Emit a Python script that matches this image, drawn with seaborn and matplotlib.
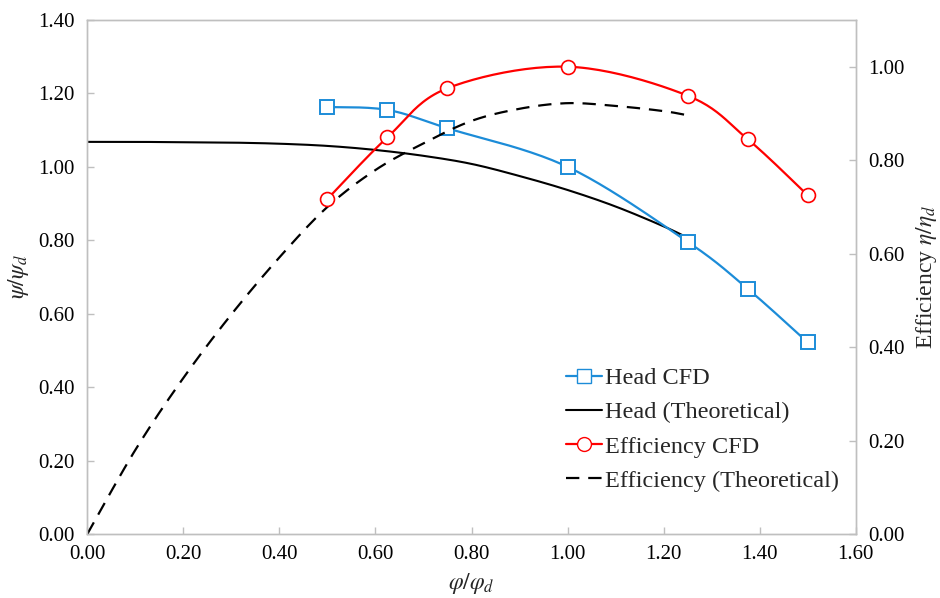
import numpy as np
import matplotlib
matplotlib.use("Agg")
import matplotlib.pyplot as plt
from matplotlib.lines import Line2D
import seaborn as sns

# valores
phi_cfd = [0.5, 0.625, 0.75, 1.0, 1.25, 1.375, 1.5]
head_cfd = [1.163, 1.155, 1.105, 1.000, 0.796, 0.668, 0.522]
eff_cfd = [0.717, 0.849, 0.954, 1.000, 0.938, 0.845, 0.725]

phi_th = [0.0, 0.1, 0.2, 0.3, 0.4, 0.5, 0.6, 0.7, 0.8, 0.9, 1.0, 1.1, 1.2, 1.25]
head_th = [1.068, 1.068, 1.067, 1.066, 1.063, 1.057, 1.046, 1.030, 1.008, 0.975,
           0.937, 0.892, 0.838, 0.807]
eff_th = [0.0, 0.180, 0.334, 0.470, 0.592, 0.700, 0.779, 0.836, 0.884, 0.910,
          0.922, 0.916, 0.905, 0.896]

blue = "#1C8CD8"
red = "#FF0000"
grey = "#BFBFBF"


def smooth(x, y, n=25):
    # curva suavizada tipo Excel (Catmull-Rom)
    x = np.asarray(x, float)
    y = np.asarray(y, float)
    px = np.concatenate([[x[0]], x, [x[-1]]])
    py = np.concatenate([[y[0]], y, [y[-1]]])
    xs, ys = [], []
    t = np.linspace(0, 1, n)
    for i in range(1, len(px) - 2):
        for p, out in ((px, xs), (py, ys)):
            p0, p1, p2, p3 = p[i - 1], p[i], p[i + 1], p[i + 2]
            out.extend(0.5 * ((2 * p1) + (-p0 + p2) * t
                              + (2 * p0 - 5 * p1 + 4 * p2 - p3) * t ** 2
                              + (-p0 + 3 * p1 - 3 * p2 + p3) * t ** 3))
    return np.array(xs), np.array(ys)


sns.set_theme(style="white")
plt.rcParams["font.family"] = ["Liberation Serif", "DejaVu Serif"]
plt.rcParams["mathtext.fontset"] = "stix"

fig, ax = plt.subplots(figsize=(9.4, 5.98), dpi=100)
fig.subplots_adjust(left=0.0929, right=0.9103, bottom=0.107, top=0.9666)
ax2 = ax.twinx()

# eje izquierdo: altura
x, y = smooth(phi_th, head_th)
sns.lineplot(x=x, y=y, ax=ax, color="black", lw=1.5, sort=False, estimator=None)
x, y = smooth(phi_cfd, head_cfd)
sns.lineplot(x=x, y=y, ax=ax, color=blue, lw=1.6, sort=False, estimator=None)
ax.plot(phi_cfd, head_cfd, ls="none", marker="s", ms=10, mfc="white",
        mec=blue, mew=1.4)

# eje derecho: eficiencia
x, y = smooth(phi_th, eff_th)
sns.lineplot(x=x, y=y, ax=ax2, color="black", lw=1.6, sort=False, estimator=None)
ax2.lines[-1].set_dashes([6, 4])
x, y = smooth(phi_cfd, eff_cfd)
sns.lineplot(x=x, y=y, ax=ax2, color=red, lw=1.6, sort=False, estimator=None)
ax2.plot(phi_cfd, eff_cfd, ls="none", marker="o", ms=10, mfc="white",
         mec=red, mew=1.2)

ax.set_xlim(0, 1.6)
ax.set_ylim(0, 1.4)
ax2.set_ylim(0, 1.1)
ax.set_xticks(np.arange(0, 1.61, 0.2))
ax.set_yticks(np.arange(0, 1.41, 0.2))
ax2.set_yticks(np.arange(0, 1.01, 0.2))
fmt = matplotlib.ticker.FormatStrFormatter("%.2f")
ax.xaxis.set_major_formatter(fmt)
ax.yaxis.set_major_formatter(fmt)
ax2.yaxis.set_major_formatter(fmt)

for a in (ax, ax2):
    for s in a.spines.values():
        s.set_color(grey)
        s.set_linewidth(1.0)
    a.tick_params(direction="in", length=5, width=1, color=grey,
                  labelsize=15, labelcolor="black")
ax.tick_params(axis="x", bottom=True, pad=8)
ax.tick_params(axis="y", left=True, pad=9)
ax2.tick_params(axis="y", right=True, pad=9)

ax.set_xlabel(r"$\varphi/\varphi_d$", fontsize=17, labelpad=5)
ax.set_ylabel(r"$\psi/\psi_d$", fontsize=17, labelpad=5)
ax2.set_ylabel(r"Efficiency $\eta/\eta_d$", fontsize=17, labelpad=7)

handles = [
    Line2D([], [], color=blue, lw=1.6, marker="s", ms=10, mfc="white", mec=blue),
    Line2D([], [], color="black", lw=1.5),
    Line2D([], [], color=red, lw=1.6, marker="o", ms=10, mfc="white", mec=red),
    Line2D([], [], color="black", lw=1.6, dashes=[6, 4]),
]
labels = ["Head CFD", "Head (Theoretical)", "Efficiency CFD", "Efficiency (Theoretical)"]
fig.legend(handles, labels, loc="upper left", bbox_to_anchor=(0.5916, 0.402),
           bbox_transform=fig.transFigure, frameon=False, fontsize=17.5,
           handlelength=1.5, handletextpad=0.1, labelspacing=0.5,
           borderaxespad=0)

fig.savefig("out.png", dpi=100)
